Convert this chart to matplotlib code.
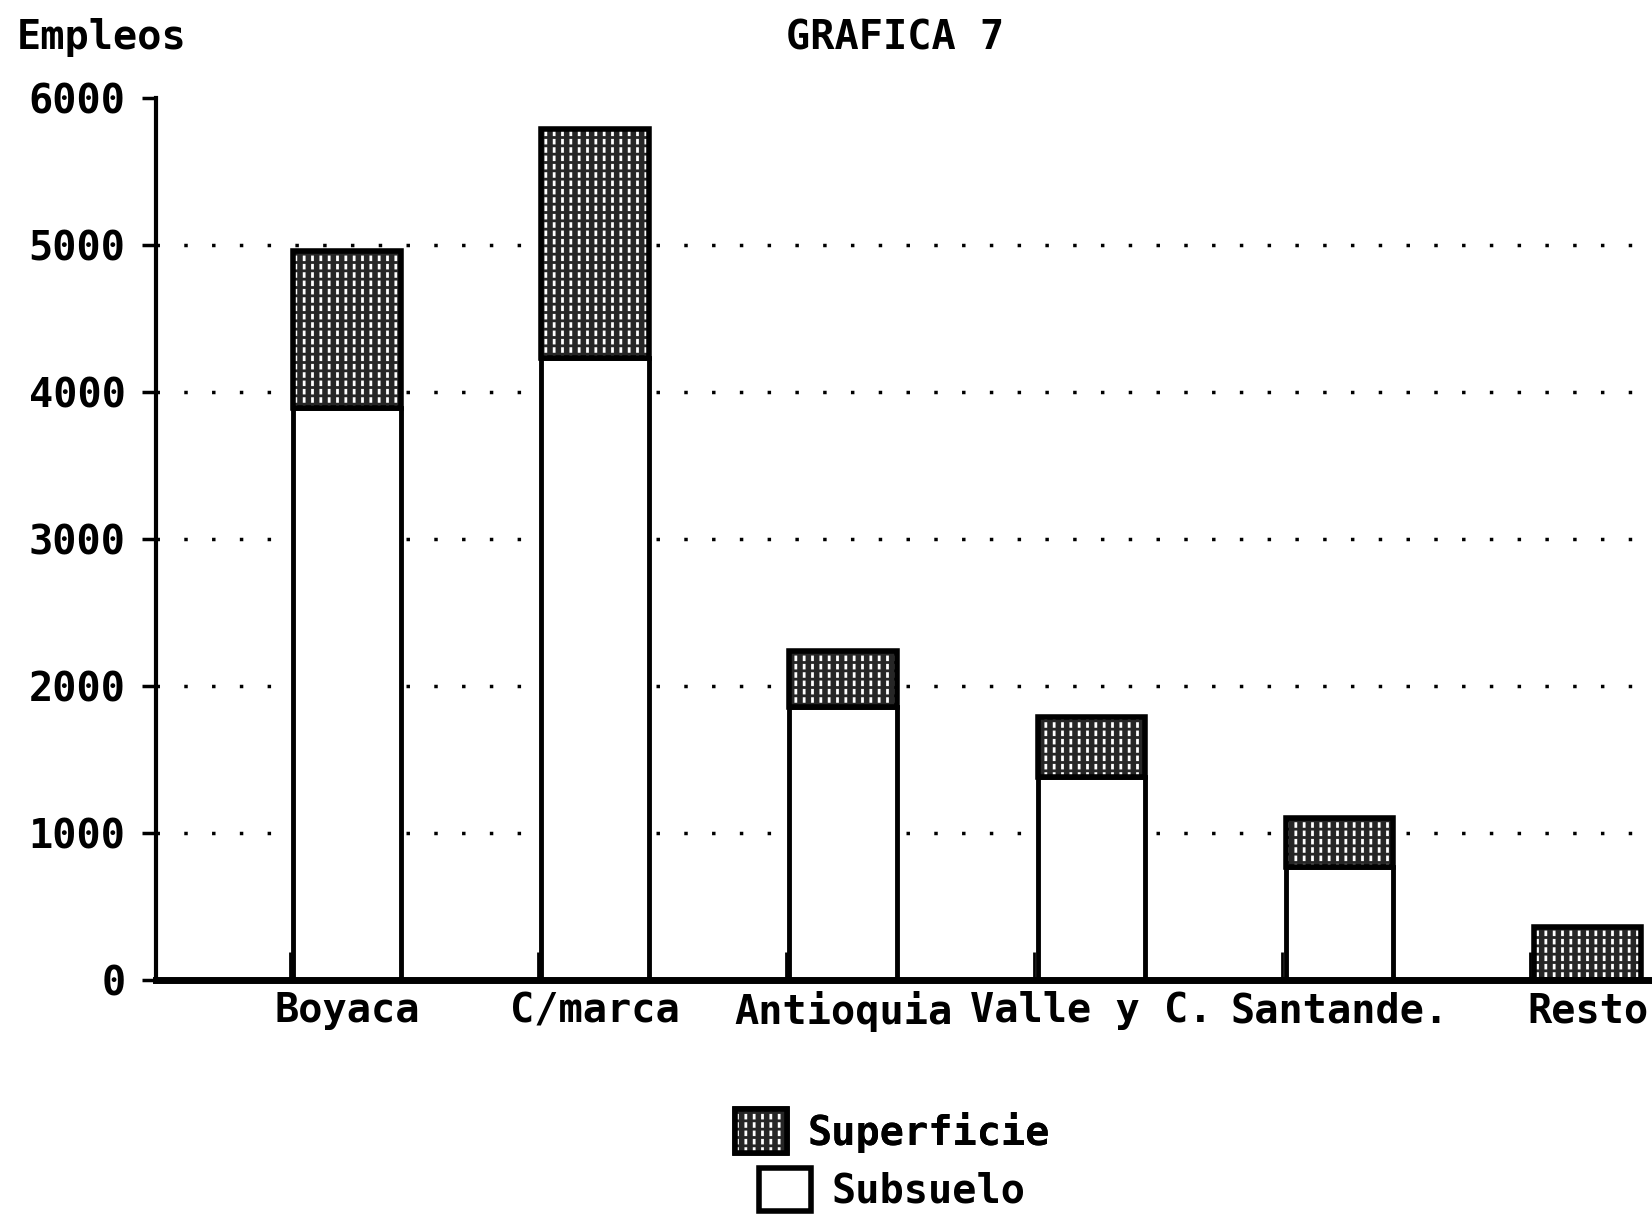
import matplotlib.pyplot as plt
import matplotlib.patches as mpatches
import numpy as np

plt.rcParams['font.family'] = ['DejaVu Sans Mono']
plt.rcParams['font.weight'] = 'bold'
plt.rcParams['hatch.linewidth'] = 2.0

regiones = ['Boyaca', 'C/marca', 'Antioquia', 'Valle y C.', 'Santande.', 'Resto']
subsuelo = [3890, 4230, 1860, 1380, 770, 0]
superficie = [1070, 1560, 380, 410, 330, 360]
yticks = [0, 1000, 2000, 3000, 4000, 5000, 6000]

fig = plt.figure(figsize=(16.52, 12.15), dpi=100)
ax = fig.add_axes([0.0945, 0.1934, 0.9055, 0.7256])

x = np.arange(len(regiones))
w = 0.434
dark = '#262626'

# subsuelo: blanco con borde negro
ax.bar(x, subsuelo, w, color='white', edgecolor='black', linewidth=3.5, zorder=3)
# superficie: trama oscura
ax.bar(x, superficie, w, bottom=subsuelo, color=dark, edgecolor='white',
       hatch='||', linewidth=0, zorder=3)
ax.bar(x, superficie, w, bottom=subsuelo, fill=False, edgecolor=dark,
       hatch='--', linewidth=0, zorder=4)
ax.bar(x, superficie, w, bottom=subsuelo, fill=False, edgecolor='black',
       linewidth=4, zorder=5)

# lineas punteadas
ax.hlines(yticks[1:-1], -0.77, 5.3, colors='black', linestyles=(0, (1, 7)),
          linewidth=2.5, zorder=1)

ax.set_xlim(-0.77, 5.26)
ax.set_ylim(0, 6000)
ax.set_yticks(yticks)
ax.set_yticklabels([str(v) for v in yticks], fontsize=29)
ax.set_xticks(x)
ax.set_xticklabels(regiones, fontsize=29)
ax.set_xticks(x - w / 2 - 0.015, minor=True)
ax.tick_params(axis='x', which='major', length=0, pad=8)
ax.tick_params(axis='x', which='minor', direction='in', length=20, width=2)
ax.tick_params(axis='y', length=10, width=2.5, pad=12)

for s in ['top', 'right']:
    ax.spines[s].set_visible(False)
ax.spines['left'].set_linewidth(3)
ax.spines['bottom'].set_linewidth(5)
ax.spines['bottom'].set_zorder(6)

fig.text(0.01, 0.985, 'Empleos', fontsize=29, va='top', ha='left')
fig.text(0.542, 0.985, 'GRAFICA 7', fontsize=29, va='top', ha='center')

h_sup = (mpatches.Patch(facecolor=dark, edgecolor='white', hatch='||', linewidth=0),
         mpatches.Patch(fill=False, edgecolor=dark, hatch='--', linewidth=0),
         mpatches.Patch(fill=False, edgecolor='black', linewidth=4))
h_sub = mpatches.Patch(facecolor='white', edgecolor='black', linewidth=4)
leg1 = fig.legend(handles=[h_sup], labels=['Superficie'], loc='center',
                  bbox_to_anchor=(0.54, 0.069), frameon=False, fontsize=29,
                  handlelength=1.3, handleheight=1.3, handletextpad=0.5)
fig.add_artist(leg1)
fig.legend(handles=[h_sub], labels=['Subsuelo'], loc='center',
           bbox_to_anchor=(0.54, 0.021), frameon=False, fontsize=29,
           handlelength=1.3, handleheight=1.3, handletextpad=0.5)

fig.savefig('out.png', dpi=100)
